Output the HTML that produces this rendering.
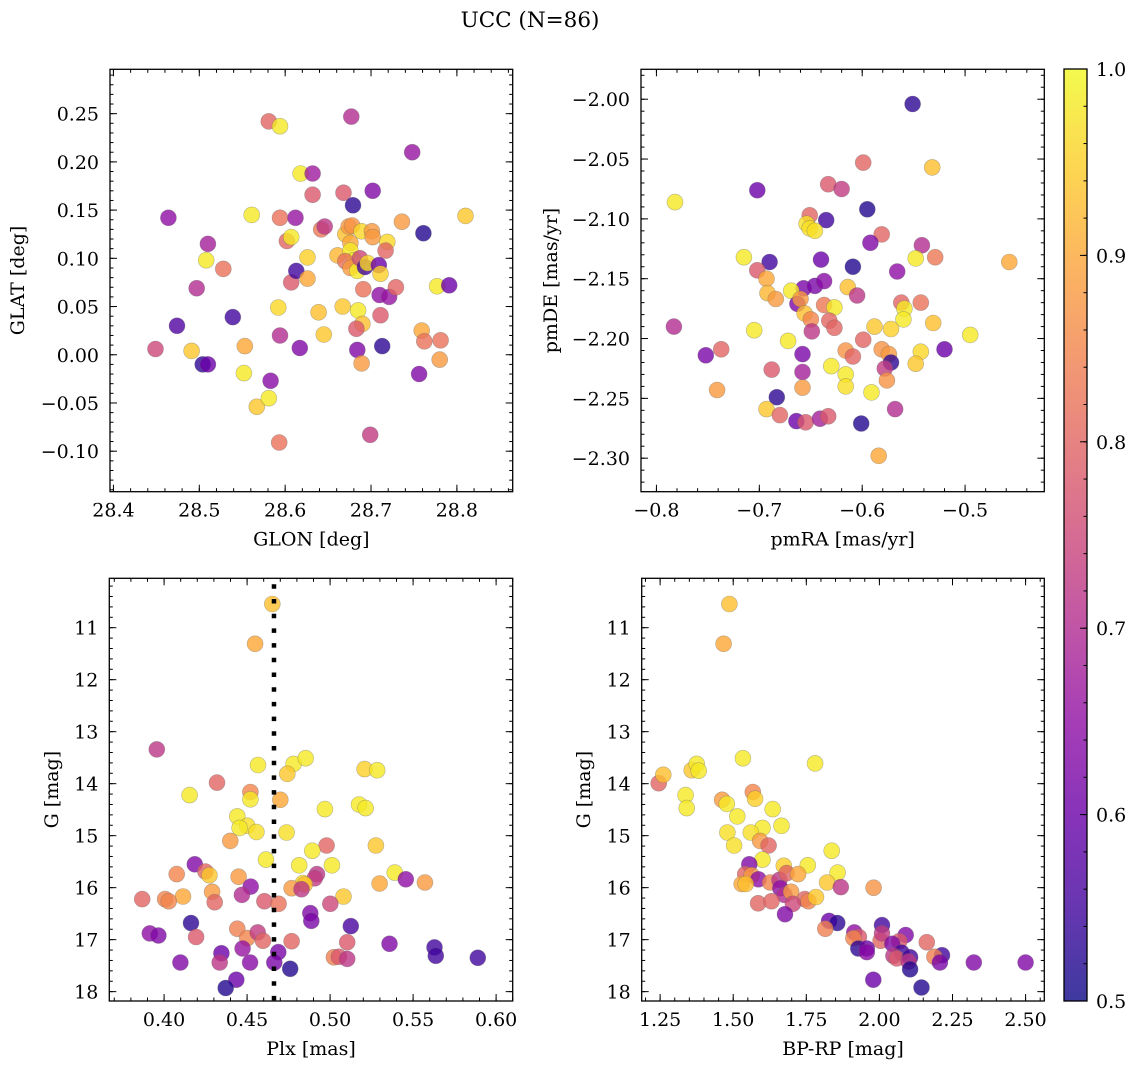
<!DOCTYPE html>
<html><head><meta charset="utf-8">
<style>
html,body{margin:0;padding:0;background:#fff;}
svg{display:block;font-family:"DejaVu Serif","Liberation Serif",serif;}
</style></head>
<body>
<svg id="fig" width="1136" height="1068" viewBox="0 0 1136 1068" xmlns="http://www.w3.org/2000/svg">
<rect width="1136" height="1068" fill="#fff"/>
<text x="530" y="27" font-size="21.5" text-anchor="middle">UCC (N=86)</text>
<defs>
<linearGradient id="cbgrad" x1="0" y1="1" x2="0" y2="0">
<stop offset="0" stop-color="#0d0887"/><stop offset="0.1" stop-color="#41049d"/><stop offset="0.2" stop-color="#6a00a8"/><stop offset="0.3" stop-color="#8f0da4"/><stop offset="0.4" stop-color="#b12a90"/><stop offset="0.5" stop-color="#cc4778"/><stop offset="0.6" stop-color="#e16462"/><stop offset="0.7" stop-color="#f2844b"/><stop offset="0.8" stop-color="#fca636"/><stop offset="0.9" stop-color="#fcce25"/><stop offset="1" stop-color="#f0f921"/>
</linearGradient>
</defs>
</svg>
<script>
// [GLON, GLAT, probability]
const skyPoints = [[28.464,0.142,0.65],[28.474,0.030,0.57],[28.449,0.006,0.75],[28.491,0.004,0.94],[28.504,-0.010,0.53],[28.510,-0.010,0.6],[28.497,0.069,0.7],[28.510,0.115,0.68],[28.508,0.098,0.98],[28.528,0.089,0.82],[28.539,0.039,0.55],[28.553,0.009,0.9],[28.552,-0.019,0.98],[28.561,0.145,0.98],[28.567,-0.054,0.94],[28.581,-0.045,0.98],[28.583,-0.027,0.64],[28.581,0.242,0.8],[28.594,0.237,0.98],[28.594,0.142,0.82],[28.592,0.049,0.96],[28.594,0.020,0.7],[28.593,-0.091,0.82],[28.602,0.118,0.8],[28.607,0.122,0.98],[28.607,0.075,0.78],[28.612,0.142,0.66],[28.613,0.087,0.55],[28.617,0.007,0.63],[28.618,0.188,0.98],[28.632,0.188,0.67],[28.632,0.166,0.78],[28.626,0.101,0.95],[28.626,0.079,0.9],[28.639,0.044,0.93],[28.642,0.130,0.83],[28.646,0.133,0.72],[28.645,0.021,0.94],[28.677,0.247,0.7],[28.668,0.168,0.78],[28.679,0.155,0.53],[28.661,0.103,0.92],[28.667,0.050,0.94],[28.670,0.125,0.93],[28.674,0.133,0.88],[28.678,0.134,0.87],[28.676,0.116,0.9],[28.676,0.108,0.98],[28.680,0.098,0.98],[28.670,0.097,0.82],[28.676,0.090,0.88],[28.684,0.087,0.98],[28.687,0.100,0.75],[28.689,0.128,0.96],[28.693,0.091,0.55],[28.696,0.095,0.96],[28.701,0.128,0.88],[28.702,0.122,0.88],[28.709,0.093,0.6],[28.711,0.084,0.95],[28.719,0.117,0.96],[28.717,0.108,0.8],[28.702,0.170,0.63],[28.691,0.068,0.82],[28.710,0.062,0.65],[28.721,0.060,0.66],[28.729,0.070,0.8],[28.711,0.041,0.78],[28.685,0.046,0.98],[28.690,0.032,0.93],[28.683,0.027,0.78],[28.684,0.005,0.63],[28.713,0.009,0.53],[28.689,-0.009,0.88],[28.699,-0.083,0.73],[28.736,0.138,0.88],[28.748,0.210,0.66],[28.761,0.126,0.52],[28.810,0.144,0.94],[28.777,0.071,0.98],[28.791,0.072,0.6],[28.759,0.025,0.9],[28.762,0.014,0.82],[28.781,0.015,0.82],[28.780,-0.005,0.88],[28.756,-0.020,0.63]];
// [pmRA, pmDE, probability]
const pmPoints = [[-0.551,-2.004,0.53],[-0.599,-2.053,0.8],[-0.532,-2.057,0.93],[-0.702,-2.076,0.6],[-0.633,-2.071,0.78],[-0.620,-2.075,0.73],[-0.782,-2.086,0.98],[-0.595,-2.092,0.52],[-0.651,-2.097,0.8],[-0.635,-2.101,0.55],[-0.654,-2.104,0.97],[-0.651,-2.108,0.97],[-0.646,-2.110,0.97],[-0.581,-2.113,0.8],[-0.592,-2.120,0.63],[-0.542,-2.122,0.7],[-0.715,-2.132,0.98],[-0.690,-2.136,0.55],[-0.640,-2.134,0.6],[-0.609,-2.140,0.52],[-0.548,-2.133,0.98],[-0.529,-2.132,0.83],[-0.457,-2.136,0.9],[-0.702,-2.143,0.78],[-0.566,-2.144,0.65],[-0.693,-2.150,0.9],[-0.657,-2.158,0.62],[-0.646,-2.156,0.62],[-0.637,-2.152,0.64],[-0.669,-2.160,0.98],[-0.692,-2.162,0.92],[-0.684,-2.167,0.88],[-0.614,-2.157,0.93],[-0.605,-2.164,0.72],[-0.663,-2.171,0.62],[-0.660,-2.167,0.88],[-0.656,-2.179,0.93],[-0.650,-2.184,0.85],[-0.637,-2.172,0.83],[-0.627,-2.174,0.98],[-0.632,-2.185,0.8],[-0.627,-2.191,0.8],[-0.649,-2.194,0.72],[-0.562,-2.170,0.8],[-0.543,-2.170,0.82],[-0.559,-2.175,0.98],[-0.560,-2.184,0.98],[-0.588,-2.190,0.94],[-0.572,-2.192,0.95],[-0.531,-2.187,0.93],[-0.495,-2.197,0.98],[-0.783,-2.190,0.7],[-0.705,-2.193,0.98],[-0.752,-2.214,0.62],[-0.737,-2.209,0.8],[-0.672,-2.202,0.98],[-0.599,-2.201,0.8],[-0.616,-2.210,0.87],[-0.609,-2.215,0.8],[-0.581,-2.209,0.87],[-0.574,-2.213,0.88],[-0.572,-2.220,0.53],[-0.578,-2.225,0.73],[-0.576,-2.235,0.87],[-0.543,-2.211,0.96],[-0.548,-2.221,0.94],[-0.520,-2.209,0.6],[-0.658,-2.213,0.62],[-0.658,-2.228,0.68],[-0.688,-2.226,0.78],[-0.630,-2.223,0.98],[-0.616,-2.230,0.98],[-0.616,-2.240,0.97],[-0.591,-2.245,0.98],[-0.658,-2.241,0.88],[-0.741,-2.243,0.88],[-0.683,-2.249,0.53],[-0.693,-2.259,0.94],[-0.680,-2.264,0.8],[-0.664,-2.269,0.6],[-0.655,-2.270,0.78],[-0.641,-2.267,0.68],[-0.633,-2.265,0.78],[-0.568,-2.259,0.7],[-0.601,-2.271,0.52],[-0.584,-2.298,0.9]];
// [Plx, G, probability]
const plxPoints = [[0.4652,10.545,0.93],[0.4548,11.31,0.9],[0.3956,13.34,0.72],[0.4319,13.98,0.8],[0.4154,14.22,0.98],[0.4566,13.64,0.98],[0.4780,13.62,0.98],[0.4853,13.51,0.98],[0.4742,13.81,0.94],[0.5208,13.72,0.95],[0.5284,13.74,0.98],[0.4520,14.16,0.85],[0.4520,14.30,0.98],[0.4700,14.31,0.9],[0.4969,14.49,0.98],[0.5174,14.40,0.98],[0.5214,14.47,0.98],[0.4441,14.63,0.98],[0.4501,14.81,0.97],[0.4455,14.85,0.98],[0.4556,14.93,0.97],[0.4738,14.94,0.97],[0.4399,15.10,0.88],[0.4979,15.19,0.8],[0.5276,15.19,0.94],[0.4893,15.29,0.98],[0.4614,15.46,0.98],[0.4814,15.57,0.98],[0.5011,15.57,0.98],[0.4185,15.55,0.63],[0.4249,15.69,0.8],[0.4076,15.74,0.85],[0.4273,15.76,0.94],[0.4449,15.79,0.88],[0.4921,15.74,0.72],[0.4907,15.82,0.73],[0.5390,15.71,0.98],[0.5456,15.84,0.65],[0.5571,15.90,0.88],[0.5298,15.92,0.9],[0.4837,15.91,0.96],[0.4847,15.94,0.93],[0.4522,15.98,0.65],[0.4768,16.01,0.88],[0.4828,16.03,0.72],[0.4469,16.14,0.7],[0.4289,16.08,0.88],[0.4114,16.17,0.9],[0.5081,16.17,0.94],[0.3868,16.22,0.8],[0.4006,16.22,0.85],[0.4028,16.26,0.85],[0.4305,16.28,0.8],[0.4604,16.26,0.78],[0.4690,16.31,0.82],[0.5001,16.31,0.75],[0.4881,16.49,0.63],[0.4887,16.64,0.62],[0.4162,16.68,0.53],[0.5125,16.74,0.56],[0.3914,16.88,0.65],[0.3966,16.92,0.63],[0.4193,16.95,0.78],[0.4441,16.79,0.84],[0.4501,16.97,0.85],[0.4564,16.86,0.73],[0.4596,17.02,0.8],[0.4768,17.03,0.8],[0.5103,17.05,0.78],[0.5358,17.08,0.63],[0.5629,17.15,0.55],[0.5637,17.31,0.55],[0.5890,17.35,0.55],[0.4345,17.26,0.6],[0.4335,17.44,0.72],[0.4473,17.17,0.66],[0.4518,17.44,0.64],[0.4688,17.24,0.62],[0.4664,17.44,0.62],[0.4098,17.44,0.63],[0.5023,17.34,0.84],[0.5053,17.33,0.78],[0.5103,17.37,0.72],[0.4760,17.56,0.52],[0.4435,17.77,0.6],[0.4371,17.93,0.52]];
// [BP-RP, G, probability]
const cmdPoints = [[1.487,10.545,0.93],[1.467,11.31,0.9],[1.245,13.99,0.8],[1.261,13.83,0.93],[1.358,13.74,0.94],[1.375,13.62,0.98],[1.382,13.75,0.98],[1.337,14.22,0.98],[1.341,14.47,0.98],[1.533,13.51,0.98],[1.780,13.61,0.98],[1.462,14.31,0.88],[1.478,14.39,0.98],[1.567,14.16,0.85],[1.575,14.29,0.95],[1.635,14.49,0.98],[1.514,14.63,0.98],[1.665,14.81,0.98],[1.600,14.85,0.98],[1.560,14.94,0.97],[1.480,14.94,0.97],[1.503,15.19,0.97],[1.592,15.10,0.88],[1.621,15.19,0.8],[1.837,15.29,0.98],[1.600,15.46,0.98],[1.555,15.55,0.63],[1.673,15.58,0.95],[1.755,15.57,0.98],[1.541,15.74,0.8],[1.563,15.76,0.88],[1.586,15.84,0.65],[1.626,15.90,0.85],[1.658,15.85,0.72],[1.683,15.72,0.8],[1.722,15.74,0.9],[1.857,15.71,0.98],[1.821,15.90,0.94],[1.868,15.99,0.72],[1.980,16.00,0.87],[1.529,15.93,0.9],[1.543,15.93,0.93],[1.661,16.01,0.65],[1.675,16.14,0.7],[1.698,16.08,0.88],[1.745,16.22,0.8],[1.757,16.26,0.85],[1.783,16.18,0.94],[1.585,16.30,0.8],[1.631,16.26,0.8],[1.704,16.31,0.75],[1.677,16.51,0.63],[1.828,16.64,0.6],[1.856,16.68,0.53],[1.815,16.79,0.84],[2.009,16.72,0.55],[1.914,16.86,0.65],[1.930,16.95,0.78],[1.911,16.97,0.85],[2.004,17.02,0.8],[2.009,16.88,0.73],[2.090,16.91,0.63],[2.068,17.03,0.78],[2.162,17.05,0.8],[1.928,17.17,0.53],[1.957,17.17,0.6],[1.957,17.24,0.64],[2.044,17.08,0.63],[2.076,17.25,0.55],[2.048,17.31,0.72],[2.059,17.36,0.78],[2.105,17.34,0.55],[2.100,17.42,0.72],[2.214,17.30,0.55],[2.188,17.33,0.84],[2.207,17.44,0.62],[2.323,17.44,0.63],[2.500,17.44,0.63],[2.105,17.57,0.52],[1.979,17.77,0.6],[2.144,17.92,0.52]];
const plxMedian = 0.4662;
const cbTicks = [0.5,0.6,0.7,0.8,0.9,1.0];

const NS = "http://www.w3.org/2000/svg";
const svg = document.getElementById('fig');
const FS = 19;
function mk(tag, attrs, parent){
  const e = document.createElementNS(NS, tag);
  for (const k in attrs) e.setAttribute(k, attrs[k]);
  (parent||svg).appendChild(e);
  return e;
}
const stops = ["#0d0887","#41049d","#6a00a8","#8f0da4","#b12a90","#cc4778","#e16462","#f2844b","#fca636","#fcce25","#f0f921"].map(h=>[parseInt(h.slice(1,3),16),parseInt(h.slice(3,5),16),parseInt(h.slice(5,7),16)]);
function plasma(p){
  let t = Math.max(0, Math.min(1, (p-0.5)/0.5))*10;
  const i = Math.min(9, Math.floor(t)), f = t-i;
  const c = stops[i].map((v,k)=>Math.round(v+(stops[i+1][k]-v)*f));
  return `rgb(${c[0]},${c[1]},${c[2]})`;
}
function fmt(v, d){ const s = Math.abs(v).toFixed(d); return (v < -1e-9 ? "\u2212" : "") + s; }

function panel(o){
  const g = mk('g', {});
  
  
  const sx = v => o.L + (v-o.x0)/(o.x1-o.x0)*(o.R-o.L);
  const sy = o.inv ? (v => o.T + (v-o.y0)/(o.y1-o.y0)*(o.B-o.T)) : (v => o.B - (v-o.y0)/(o.y1-o.y0)*(o.B-o.T));
  const pg = mk('g', {}, g);
  
  
  o.data.forEach(d => {
    const c = mk('circle', {cx: sx(d[0]).toFixed(1), cy: sy(d[1]).toFixed(1), r: 8, fill: plasma(d[2]), 'fill-opacity': 0.8, stroke: '#666', 'stroke-opacity': 0.45, 'stroke-width': 0.6}, pg);
    
    
  });
  if (o.after) o.after(g, sx, sy);
  const tk = mk('g', {stroke: '#000', 'stroke-width': 1}, g);
  function ticks(step, len, axis){
    const a0 = axis==='x' ? Math.min(o.x0,o.x1) : Math.min(o.y0,o.y1);
    const a1 = axis==='x' ? Math.max(o.x0,o.x1) : Math.max(o.y0,o.y1);
    for (let n = Math.ceil(a0/step - 1e-6); n*step <= a1 + 1e-9; n++){
      const v = n*step;
      if (axis==='x'){ const x = sx(v);
        mk('line', {x1:x, y1:o.B, x2:x, y2:o.B-len}, tk); mk('line', {x1:x, y1:o.T, x2:x, y2:o.T+len}, tk);
      } else { const y = sy(v);
        mk('line', {x1:o.L, y1:y, x2:o.L+len, y2:y}, tk); mk('line', {x1:o.R, y1:y, x2:o.R-len, y2:y}, tk);
      }
    }
  }
  ticks(o.xmin, 3.5, 'x'); ticks(o.xmaj, 7, 'x');
  ticks(o.ymin, 3.5, 'y'); ticks(o.ymaj, 7, 'y');
  const fr = mk('rect', {x:o.L, y:o.T, width:o.R-o.L, height:o.B-o.T, fill:'none', stroke:'#000', 'stroke-width':1.3}, g);
  
  
  o.xlabels.forEach(v => {
    const t = mk('text', {x: sx(v), y: o.B+25, 'font-size': FS, 'text-anchor':'middle'}, g);
    t.textContent = fmt(v, o.xd);
    
    
  });
  o.ylabels.forEach(v => {
    const t = mk('text', {x: o.L-11, y: sy(v)+7, 'font-size': FS, 'text-anchor':'end'}, g);
    t.textContent = fmt(v, o.yd);
    
    
  });
  const xt = mk('text', {x:(o.L+o.R)/2, y:o.B+54, 'font-size':FS, 'text-anchor':'middle'}, g);
  xt.textContent = o.xt;
  
  
  const yt = mk('text', {x:0, y:0, 'font-size':FS, 'text-anchor':'middle', transform:`translate(${o.ytx},${(o.T+o.B)/2}) rotate(-90)`}, g);
  yt.textContent = o.yt;
  
  
}

panel({name:'sky-panel', data:skyPoints, L:110, R:512.7, T:69.3, B:491.7, x0:28.396, x1:28.865, y0:-0.142, y1:0.296,
  xmaj:0.1, xmin:0.02, ymaj:0.05, ymin:0.01, xd:1, yd:2,
  xlabels:[28.4,28.5,28.6,28.7,28.8], ylabels:[-0.10,-0.05,0.00,0.05,0.10,0.15,0.20,0.25],
  xt:'GLON [deg]', yt:'GLAT [deg]', ytx:24});
panel({name:'proper-motion-panel', data:pmPoints, L:641, R:1044.3, T:69.3, B:491.7, x0:-0.815, x1:-0.423, y0:-2.328, y1:-1.975,
  xmaj:0.1, xmin:0.02, ymaj:0.05, ymin:0.01, xd:1, yd:2,
  xlabels:[-0.8,-0.7,-0.6,-0.5], ylabels:[-2.30,-2.25,-2.20,-2.15,-2.10,-2.05,-2.00],
  xt:'pmRA [mas/yr]', yt:'pmDE [mas/yr]', ytx:557});
panel({name:'parallax-panel', data:plxPoints, L:109.3, R:512.7, T:578.3, B:1001, x0:0.367, x1:0.610, y0:10.05, y1:18.18, inv:true,
  xmaj:0.05, xmin:0.01, ymaj:1, ymin:0.2, xd:2, yd:0,
  xlabels:[0.40,0.45,0.50,0.55,0.60], ylabels:[11,12,13,14,15,16,17,18],
  xt:'Plx [mas]', yt:'G [mag]', ytx:58,
  after:(g,sx,sy)=>{
    const x = sx(plxMedian);
    const l = mk('line', {x1:x, y1:sy(10.05)+6, x2:x, y2:sy(18.18), stroke:'#000', 'stroke-width':4.5, 'stroke-dasharray':'4.5 10.2'}, g);
    
    
  }});
panel({name:'cmd-panel', data:cmdPoints, L:641.7, R:1044.3, T:578.3, B:1001, x0:1.187, x1:2.564, y0:10.05, y1:18.18, inv:true,
  xmaj:0.25, xmin:0.05, ymaj:1, ymin:0.2, xd:2, yd:0,
  xlabels:[1.25,1.50,1.75,2.00,2.25,2.50], ylabels:[11,12,13,14,15,16,17,18],
  xt:'BP-RP [mag]', yt:'G [mag]', ytx:590});

const cb = mk('g', {});


const CL=1064, CR=1087, CT=69, CB=1001;
const cbs = v => CB - (v-0.5)/0.5*(CB-CT);
mk('rect', {x:CL, y:CT, width:CR-CL, height:CB-CT, fill:'url(#cbgrad)', 'fill-opacity':0.8}, cb);
mk('rect', {x:CL, y:CT, width:CR-CL, height:CB-CT, fill:'none', stroke:'#000', 'stroke-width':1.3}, cb);
for (let n=25; n<=50; n++){ const y = cbs(n*0.02); mk('line', {x1:CR, y1:y, x2:CR-3.5, y2:y, stroke:'#000'}, cb); }
cbTicks.forEach(v => {
  const y = cbs(v);
  mk('line', {x1:CR, y1:y, x2:CR-7, y2:y, stroke:'#000'}, cb);
  const t = mk('text', {x:CR+9, y:y+7, 'font-size':FS}, cb);
  t.textContent = v.toFixed(1);
  
  
});
</script>
</body></html>
